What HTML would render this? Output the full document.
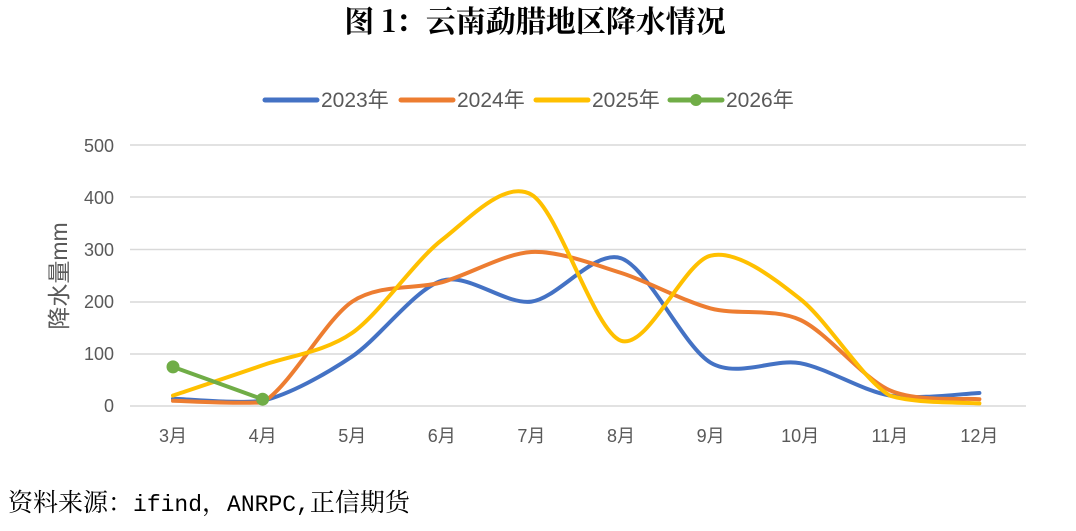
<!DOCTYPE html>
<html><head><meta charset="utf-8"><style>
body{margin:0;background:#fff;width:1076px;height:526px;overflow:hidden}
svg text{font-family:"Liberation Sans","Noto Sans CJK SC",sans-serif}
</style></head><body>
<svg id="s" width="1076" height="526" xmlns="http://www.w3.org/2000/svg">
<text x="535" y="32" text-anchor="middle" font-size="30" font-weight="bold" style="font-family:'Noto Serif CJK SC',serif" fill="#000">图 1：云南勐腊地区降水情况</text>
<g stroke="#d9d9d9" stroke-width="1.5">
<line x1="130" x2="1026" y1="145" y2="145"/><line x1="130" x2="1026" y1="197" y2="197"/>
<line x1="130" x2="1026" y1="249.5" y2="249.5"/><line x1="130" x2="1026" y1="302" y2="302"/>
<line x1="130" x2="1026" y1="354" y2="354"/><line x1="130" x2="1026" y1="406" y2="406"/>
</g>
<g font-size="18" fill="#595959" text-anchor="end">
<text x="114" y="152">500</text><text x="114" y="204">400</text><text x="114" y="256">300</text>
<text x="114" y="308">200</text><text x="114" y="360">100</text><text x="114" y="412">0</text>
</g>
<text transform="translate(67,276) rotate(-90)" text-anchor="middle" font-size="23" fill="#595959">降水量mm</text>
<g font-size="18" fill="#595959" text-anchor="middle" id="xl"></g>
<g id="lines" fill="none" stroke-width="4" stroke-linecap="round"></g>
<g font-size="21" fill="#595959">
<line x1="265" x2="317" y1="100" y2="100" stroke="#4472c4" stroke-width="5" stroke-linecap="round"/><text x="321" y="107">2023年</text>
<line x1="401" x2="453" y1="100" y2="100" stroke="#ed7d31" stroke-width="5" stroke-linecap="round"/><text x="457" y="107">2024年</text>
<line x1="536" x2="588" y1="100" y2="100" stroke="#ffc000" stroke-width="5" stroke-linecap="round"/><text x="592" y="107">2025年</text>
<line x1="670" x2="722" y1="100" y2="100" stroke="#70ad47" stroke-width="5" stroke-linecap="round"/><circle cx="696" cy="100" r="6" fill="#70ad47"/><text x="726" y="107">2026年</text>
</g>
<text x="8" y="511" font-size="25" fill="#000" style="font-family:'Noto Serif CJK SC',serif">资料来源：<tspan style="font-family:'Liberation Mono',monospace" font-size="23">ifind</tspan>，<tspan style="font-family:'Liberation Mono',monospace" font-size="23">ANRPC,</tspan>正信期货</text>
</svg>
<script>
var xs=[],ns="http://www.w3.org/2000/svg";
for(var i=0;i<10;i++)xs.push(173+i*89.6);
var xl=document.getElementById('xl');
for(var i=0;i<10;i++){var t=document.createElementNS(ns,'text');t.setAttribute('x',xs[i]);t.setAttribute('y',442);t.textContent=(i+3)+'月';xl.appendChild(t);}
function Y(v){return 406-v*0.522;}
function cl(y){return Math.min(y,404);}
function path(vals,sm){var p=vals.map(function(v,i){return [xs[i],Y(v)];});
var d='M'+p[0][0]+','+p[0][1];
for(var i=0;i<p.length-1;i++){var a=p[i-1]||p[i],b=p[i],c=p[i+1],e=p[i+2]||c;
if(!sm){d+=' L'+c[0]+','+c[1];continue;}
var k=0.15;d+=' C'+(b[0]+(c[0]-a[0])*k)+','+cl(b[1]+(c[1]-a[1])*k)+' '+(c[0]-(e[0]-b[0])*k)+','+cl(c[1]-(e[1]-b[1])*k)+' '+c[0]+','+c[1];}
return d;}
var g=document.getElementById('lines');
function add(vals,col,sm){var e=document.createElementNS(ns,'path');e.setAttribute('d',path(vals,sm));e.setAttribute('stroke',col);g.appendChild(e);}
add([14,10,95,240,200,283,83,82,20,25],'#4472c4',1);
add([10,7,200,237,295,255,187,165,30,13],'#ed7d31',1);
add([20,78,140,318,405,125,288,205,20,5],'#ffc000',1);
add([75,13],'#70ad47',0);
[[0,75],[1,13]].forEach(function(q){var c=document.createElementNS(ns,'circle');c.setAttribute('cx',xs[q[0]]);c.setAttribute('cy',Y(q[1]));c.setAttribute('r',6.5);c.setAttribute('fill','#70ad47');g.appendChild(c);});
</script>
</body></html>
